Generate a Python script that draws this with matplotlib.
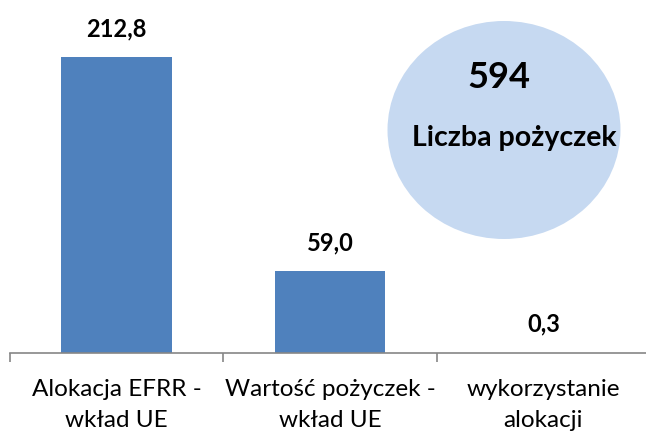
import matplotlib
matplotlib.use("Agg")
import matplotlib.pyplot as plt
from matplotlib.patches import Ellipse

categories = ["Alokacja EFRR -\nwkład UE", "Wartość pożyczek -\nwkład UE", "wykorzystanie\nalokacji"]
values = [212.8, 59.0, 0.3]
value_labels = ["212,8", "59,0", "0,3"]
loans_count = "594"
loans_label = "Liczba pożyczek"

plt.rcParams["font.family"] = ["Lato", "DejaVu Sans"]

W, H = 646, 432
fig = plt.figure(figsize=(W / 100, H / 100), dpi=100)
# plot area: starts at x=10px, baseline at y=353px
ax = fig.add_axes([10 / W, (H - 353) / H, 636 / W, 353 / H])

x = range(len(values))
ax.bar(x, values, width=0.52, color="#4F81BD", zorder=2)

for i, v in enumerate(values):
    ax.annotate(value_labels[i], (i, v), xytext=(0, 20.5), textcoords="offset points",
                ha="center", va="center", fontsize=17, fontweight="bold", color="black")

ax.set_xlim(-0.5, 2.5 - 4 / 213.3)
ax.set_ylim(0, 353 / 1.391)

for s in ["top", "right", "left"]:
    ax.spines[s].set_visible(False)
ax.spines["bottom"].set_color("#868686")
ax.spines["bottom"].set_linewidth(1.2)
ax.set_yticks([])

ax.set_xticks(list(x))
ax.set_xticklabels(categories, fontsize=17.5, linespacing=1.55)
ax.tick_params(axis="x", which="major", length=0, pad=19)
ax.set_xticks([-0.5, 0.5, 1.5], minor=True)
ax.tick_params(axis="x", which="minor", length=6.5, width=1.2, color="#868686", direction="out")

# bubble with the number of loans
circ = Ellipse((504 / W, 1 - 130 / H), 233 / W, 218 / H, transform=fig.transFigure,
               facecolor="#C6D9F1", edgecolor="none", zorder=0)
fig.patches.append(circ)
fig.text(499 / W, 1 - 77 / H, loans_count, ha="center", va="center",
         fontsize=26, fontweight="bold")
fig.text(514 / W, 1 - 138 / H, loans_label, ha="center", va="center",
         fontsize=20.5, fontweight="bold")

fig.savefig("out.png", dpi=100)
